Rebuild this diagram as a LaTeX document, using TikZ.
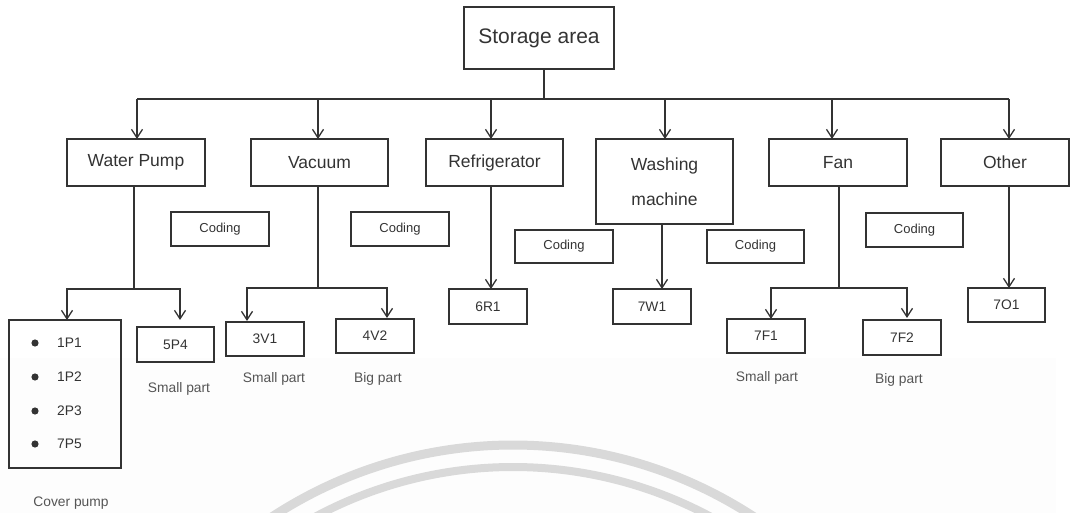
\documentclass[tikz,border=0pt]{standalone}
\usepackage{fontspec}
\setmainfont{Liberation Sans}
\usetikzlibrary{arrows.meta}
\definecolor{ink}{HTML}{333333}
\definecolor{soft}{HTML}{555555}
\definecolor{wmark}{HTML}{D9D9D9}
\begin{document}
\begin{tikzpicture}[x=1pt,y=-1pt,
  box/.style={draw=ink, line width=1.3pt, inner sep=0pt, outer sep=0pt,
    text=ink, font=\fontsize{17.5}{20}\selectfont},
  codebox/.style={box, minimum width=98pt, minimum height=34pt,
    font=\fontsize{13}{15}\selectfont},
  leafbox/.style={box, minimum width=78pt, minimum height=35pt,
    font=\fontsize{13.8}{16}\selectfont},
  item/.style={anchor=west, inner sep=0pt, text=ink,
    font=\fontsize{13.8}{16}\selectfont},
  note/.style={inner sep=0pt, text=soft, font=\fontsize{13.8}{16}\selectfont},
  link/.style={draw=ink, line width=1.3pt},
  arr/.style={link, -{Straight Barb[length=8.5pt,width=11pt]}},
]
\useasboundingbox (0,0) rectangle (1072,513);
\clip (0,0) rectangle (1072,513);

% page shading and watermark arcs
\fill[black!0.8] (0,358) rectangle (1056,513);
\draw[wmark, line width=9pt] (513,885) ++(-124:440) arc[start angle=-124, end angle=-56, radius=440];
\draw[wmark, line width=8pt] (513,885) ++(-119:418) arc[start angle=-119, end angle=-61, radius=418];

% root
\node[box, minimum width=150pt, minimum height=62pt, font=\fontsize{21}{24}\selectfont]
  (store) at (539,38) {Storage area};

% product groups
\node[box, minimum width=138pt, minimum height=47pt] (wp)  at (136,162.5)  {Water Pump};
\node[box, minimum width=137pt, minimum height=47pt] (vac) at (319.5,162.5) {Vacuum};
\node[box, minimum width=137pt, minimum height=47pt] (ref) at (494.5,162.5) {Refrigerator};
\node[box, minimum width=137pt, minimum height=85pt, align=center,
      font=\fontsize{17.5}{35}\selectfont] (wash) at (664.5,181.5) {Washing\\machine};
\node[box, minimum width=138pt, minimum height=47pt] (fan) at (838,162.5) {Fan};
\node[box, minimum width=128pt, minimum height=47pt] (oth) at (1005,162.5) {Other};

% coding tags
\node[codebox] (c1) at (220,229)   {Coding};
\node[codebox] (c2) at (400,229)   {Coding};
\node[codebox, minimum height=33pt] (c3) at (564,246.5) {Coding};
\node[codebox, minimum height=33pt, minimum width=97pt] (c4) at (755.5,246.5) {Coding};
\node[codebox, minimum width=97pt] (c5) at (914.5,230) {Coding};

% codes
\node[box, minimum width=112pt, minimum height=148pt] (cover) at (65,394) {};
\node[leafbox, minimum width=77pt] (p54) at (175.5,344.5) {5P4};
\node[leafbox, minimum height=34pt] (v31) at (265,339)   {3V1};
\node[leafbox, minimum height=34pt] (v42) at (375,336)   {4V2};
\node[leafbox] (r61) at (488,306.5) {6R1};
\node[leafbox] (w71) at (652,306.5) {7W1};
\node[leafbox, minimum height=34pt] (f71) at (766,336)   {7F1};
\node[leafbox] (f72) at (902,337.5) {7F2};
\node[leafbox, minimum width=77pt, minimum height=34pt] (o71) at (1006.5,305) {7O1};

% cover pump list
\foreach \y/\t [count=\i] in {343/1P1, 377/1P2, 411/2P3, 444/7P5} {
  \fill[ink] (35,\y) circle (3.6pt);
  \node[item] (li\i) at (57,\y) {\t};
}

% captions
\node[note] (s1) at (179,389) {Small part};
\node[note] (s2) at (274,379) {Small part};
\node[note] (b1) at (378,379) {Big part};
\node[note] (s3) at (767,378) {Small part};
\node[note] (b2) at (899,380) {Big part};
\node[note] (cp) at (71,503) {Cover pump};

% root to groups
\coordinate (bus) at (544,99);
\draw[link] ([xshift=5pt]store.south) -- (bus);
\foreach \n/\dx in {wp/1, vac/-1.5, ref/-3.5, wash/0.5, fan/-6, oth/4} {
  \path ([xshift=\dx pt]\n.north) coordinate (\n-in);
  \draw[arr] (\n-in |- bus) -- (\n-in);
}
\draw[link] (wp-in |- bus) -- (oth-in |- bus);

% water pump
\coordinate (wpj) at (134,289);
\draw[link] ([xshift=-2pt]wp.south) -- (wpj);
\draw[arr] (wpj) -| ([xshift=2pt]cover.north);
\draw[arr] (wpj) -| ([xshift=4.5pt,yshift=7pt]p54.north);

% vacuum
\coordinate (vacj) at (318,288);
\draw[link] ([xshift=-1.5pt]vac.south) -- (vacj);
\draw[arr] (vacj) -| ([xshift=-18pt,yshift=1pt]v31.north);
\draw[arr] (vacj) -| ([xshift=12pt,yshift=1pt]v42.north);

% refrigerator and washing machine
\draw[arr] ([xshift=-3.5pt]ref.south) -- ([xshift=3pt]r61.north);
\draw[arr] ([xshift=-2.5pt]wash.south) -- ([xshift=10pt]w71.north);

% fan
\coordinate (fanj) at (839,288);
\draw[link] ([xshift=1pt]fan.south) -- (fanj);
\draw[arr] (fanj) -| ([xshift=5pt]f71.north);
\draw[arr] (fanj) -| ([xshift=5pt,yshift=2pt]f72.north);

% other
\draw[arr] ([xshift=4pt]oth.south) -- ([xshift=2.5pt]o71.north);
\end{tikzpicture}
\end{document}
